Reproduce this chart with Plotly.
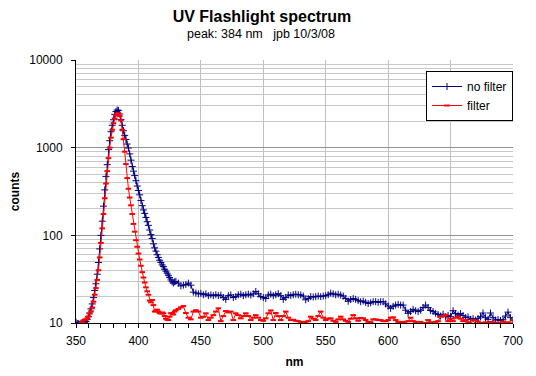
import plotly.graph_objects as go

# Wavelength sampling grid (nm): 1 nm steps to 430, then 2 nm steps
wavelength_nm = list(range(350, 431)) + list(range(432, 701, 2))

# "no filter" counts, 350..430 (1 nm)
no_filter_a = [
    10.2, 9.9, 9.8, 9.7, 9.9, 9.8, 9.9, 10.0, 10.4, 11.0,
    11.8, 13.0, 14.5, 16.5, 19.5, 23.5, 28, 36, 49, 70,
    100, 145, 215, 330, 470, 640, 950, 1200, 1520, 1800,
    2080, 2400, 2580, 2690, 2660, 2420, 2100, 1800, 1560, 1380,
    1240, 1100, 990, 850, 720, 610, 540, 480, 420, 365,
    325, 290, 250, 218, 195, 178, 160, 143, 130, 115,
    102, 92, 80, 72, 66, 60, 56, 52, 49, 46,
    44, 41, 39, 37, 35, 33, 31, 29.5, 28.5, 29.5,
    29.8,
]
# "no filter" counts, 432..700 (2 nm)
no_filter_b = [
    28.5, 26.5, 27, 27.5, 28.5, 27, 22.5, 22, 21.5, 21.8,
    21, 21.5, 20.5, 20.9, 20.5, 21, 20.5, 20.8, 19.5, 18.6,
    20.5, 20.9, 19.5, 20, 21, 21.3, 20.5, 21, 21.3, 20.8,
    21.5, 22.9, 21.5, 20, 19.5, 19, 20.9, 21.3, 20.5, 21,
    21.6, 20.5, 18.6, 19.5, 20.9, 20.5, 21, 21.3, 21, 20.9,
    20.3, 18.4, 19, 20, 19.8, 20, 20.3, 20, 20.3, 20.5,
    21, 21.9, 21.5, 21, 21.3, 20.8, 20.3, 19, 17.7, 18.5,
    19, 18.6, 18, 17.5, 17.8, 17.2, 16.7, 17, 17.5, 17.5,
    17.2, 17.5, 17.5, 16.5, 15.6, 14.7, 15.5, 16, 16.3, 16,
    16, 14, 12.9, 13.5, 14.3, 13.8, 13.5, 14, 15, 16,
    15, 13.9, 13.5, 12.9, 12.5, 12, 12.6, 11.8, 12.2, 11.8,
    13.8, 12.8, 12.3, 12.8, 12.2, 11.5, 11.7, 11, 11.2, 10.8,
    11.3, 11.8, 13, 11.5, 11, 13, 11.5, 10.8, 11, 10.7,
    10.9, 12, 13.3, 11.5, 10.8,
]

# "filter" counts, 350..430 (1 nm)
filter_a = [
    9.5, 9.5, 9.6, 9.7, 9.8, 10.2, 10.7, 10.9, 11.0, 11.3,
    11.9, 12.8, 13.6, 15, 17.5, 21, 25, 31, 40, 56,
    82, 120, 175, 265, 390, 540, 760, 1000, 1300, 1600,
    1900, 2150, 2330, 2420, 2470, 2300, 2050, 1600, 1250, 900,
    650, 450, 340, 270, 220, 175, 135, 110, 88, 74,
    62, 53, 45, 38, 33, 29, 25.5, 23, 21, 18,
    17.2, 18.3, 16, 13.5, 13.8, 14.2, 13.5, 13, 12.8, 13.2,
    12.9, 12, 11.2, 10.9, 10.8, 11.8, 12.9, 13, 12.5, 13.5,
    14,
]
# "filter" counts, 432..700 (2 nm)
filter_b = [
    14.5, 15.1, 15.6, 13, 11.5, 11, 13.5, 14, 13.5, 11.5,
    11.8, 12.9, 10.8, 11.5, 12.3, 13.5, 14.7, 10.5, 12, 13.7,
    13.2, 13.5, 10.8, 12.9, 12.3, 11.3, 12, 12.9, 12, 10.8,
    11.5, 12.3, 11.5, 10.8, 10.6, 11.3, 12.9, 13.9, 10.8, 13,
    12, 10.8, 12, 13.5, 11.5, 10.8, 10.9, 10.6, 10.5, 10.3,
    10.2, 10.3, 10.5, 11.8, 11.2, 10.8, 12, 13.5, 11.5, 10.8,
    11.2, 11.3, 10.6, 10.3, 11, 11.8, 11, 10.6, 10.3, 11.2,
    12.3, 11.3, 10.6, 11.4, 11.3, 10.8, 10.3, 10.2, 11, 11,
    10.8, 10.8, 10.5, 10.5, 10.8, 11.5, 11.6, 10.8, 10.3, 10.2,
    10.3, 9.8, 10.5, 11.5, 10.5, 10.3, 9.7, 10.3, 9.6, 10,
    10.8, 10.2, 9.8, 10.3, 10.5, 11.8, 12, 12.3, 10.5, 11.2,
    10.5, 11.5, 11.8, 11.2, 10.5, 10.8, 10.2, 9.8, 10.8, 9.6,
    10.4, 10, 9.6, 10.2, 9.8, 10.3, 10.2, 9.6, 10.1, 9.8,
    10.4, 9.9, 10.2, 9.6, 10.8,
]

no_filter = no_filter_a + no_filter_b
filter_vals = filter_a + filter_b

x_ticks = [350, 400, 450, 500, 550, 600, 650, 700]
y_ticks = [10, 100, 1000, 10000]

FONT = "Liberation Sans, Arial, sans-serif"

# The page body adds an 8 px offset; figure coordinates compensate for it.
fig = go.Figure()
fig.add_trace(go.Scatter(
    x=wavelength_nm, y=no_filter, name="no filter", mode="lines+markers",
    line=dict(color="#000080", width=1),
    marker=dict(symbol="cross-thin", size=5, color="#000080",
                line=dict(color="#000080", width=1)),
))
fig.add_trace(go.Scatter(
    x=wavelength_nm, y=filter_vals, name="filter", mode="lines+markers",
    line=dict(color="#ff0000", width=1),
    marker=dict(symbol="line-ew", size=4, color="#ff0000",
                line=dict(color="#ff0000", width=2)),
))

fig.update_layout(
    width=536, height=376,
    margin=dict(l=68, r=31, t=52, b=61, autoexpand=False),
    paper_bgcolor="white", plot_bgcolor="white",
    font=dict(family=FONT, size=12, color="black"),
    title=dict(text="<b>UV Flashlight spectrum</b>", x=254 / 536, xanchor="center",
               y=1 - 8 / 376, yanchor="middle", font=dict(size=16, family=FONT)),
    annotations=[dict(text="peak:\u00a0384\u00a0nm\u00a0\u00a0\u00a0jpb\u00a010/3/08",
                      xref="paper", yref="paper", x=(253 - 68) / 437, y=(315 - 26) / 263,
                      xanchor="center", yanchor="middle", showarrow=False,
                      font=dict(size=12.5, family=FONT))],
    legend=dict(x=1, y=1 - 11 / 263, xanchor="right", yanchor="top",
                bgcolor="white", bordercolor="black", borderwidth=1,
                font=dict(size=12, family=FONT), tracegroupgap=0),
    showlegend=True,
)
fig.update_xaxes(
    automargin=False,
    range=[350, 700], tickvals=x_ticks, ticktext=[str(v) for v in x_ticks],
    showline=True, linecolor="black", linewidth=1,
    ticks="outside", ticklen=4, tickcolor="black", ticklabelstandoff=3,
    showgrid=True, gridcolor="#c0c0c0", gridwidth=1,
    minor=dict(dtick=10, ticks="outside", ticklen=4, tickcolor="black", showgrid=False),
    title=dict(text="<b>nm</b>", font=dict(size=12), standoff=10),
    zeroline=False,
)
fig.update_yaxes(
    automargin=False,
    type="log", range=[1, 4], tickvals=y_ticks, ticktext=[str(v) for v in y_ticks],
    showline=True, linecolor="black", linewidth=1,
    ticks="outside", ticklen=4, tickcolor="black", ticklabelstandoff=6,
    showgrid=True, gridcolor="#909090", gridwidth=1,
    minor=dict(dtick="D1", showgrid=True, gridcolor="#c8c8c8", ticks=""),
    title=dict(text="<b>counts</b>", font=dict(size=12), standoff=10),
    zeroline=False,
)

fig.write_html("out.html")
